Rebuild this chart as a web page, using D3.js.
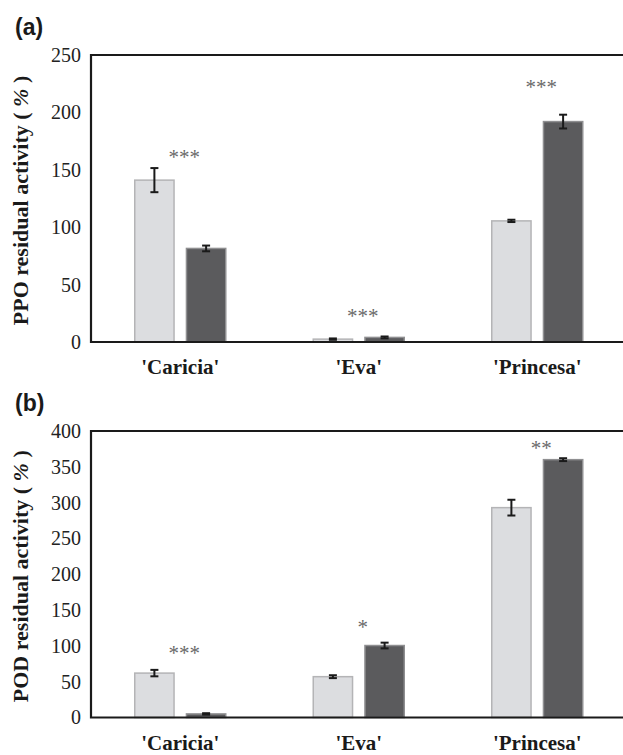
<!DOCTYPE html>
<html>
<head>
<meta charset="utf-8">
<script src="https://cdn.jsdelivr.net/npm/d3@7"></script>
<style>
  body { margin: 0; background: #fff; }
  svg { display: block; }
  .serif { font-family: "Liberation Serif", "Times New Roman", Times, serif; }
  .sans { font-family: "Liberation Sans", Arial, Helvetica, sans-serif; }
</style>
</head>
<body>
<svg id="svg" width="623" height="755"></svg>
<script>
// cultivars on the x axis
let cultivars = ["'Caricia'", "'Eva'", "'Princesa'"];

// panel (a) PPO, light and dark series with their errors
let ppoLight = [141, 2.5, 105.5];
let ppoLightErr = [10.5, 0.6, 1];
let ppoDark = [81.5, 4, 192];
let ppoDarkErr = [2.5, 0.8, 6];
let ppoStars = ['***', '***', '***'];
let ppoStarY = [164, 25.5, 225];
let ppoTicks = [0, 50, 100, 150, 200, 250];

// panel (b) POD
let podLight = [62, 57, 293];
let podLightErr = [4.5, 2, 11];
let podDark = [5, 100.5, 360];
let podDarkErr = [1, 4, 2];
let podStars = ['***', '*', '**'];
let podStarY = [94, 131, 381];
let podTicks = [0, 50, 100, 150, 200, 250, 300, 350, 400];

let svg = d3.select('#svg');

let colors = { light: '#dcdde0', dark: '#5b5b5d' };
let borders = { light: '#b4b4b6', dark: '#8f8f91' };

drawPanel = (cfg) => {
    let left = 91, right = 626.5;

    let x0 = d3.scaleBand()
        .domain(cultivars)
        .range([left, right]);

    let x1 = d3.scaleBand()
        .domain(['light', 'dark'])
        .range([-45.5, 45.5])
        .paddingInner(0.24);

    let y = d3.scaleLinear()
        .domain([0, cfg.max])
        .range([cfg.bottom, cfg.top]);

    let g = svg.append('g');

    // tick labels, no tick marks
    let yAxis = g.append('g')
        .attr('transform', 'translate(' + (left - 10) + ',0)')
        .call(d3.axisLeft(y).tickValues(cfg.ticks).tickSize(0).tickPadding(0));
    yAxis.attr('font-family', null).attr('font-size', null);
    yAxis.select('.domain').remove();
    yAxis.selectAll('text')
        .attr('class', 'serif')
        .style('font-size', '20px')
        .attr('fill', '#222');

    // rows of bars
    let rows = cultivars.map((c, i) => ({
        cat: c,
        bars: [
            { key: 'light', v: cfg.light[i], e: cfg.lightErr[i] },
            { key: 'dark', v: cfg.dark[i], e: cfg.darkErr[i] }
        ],
        star: cfg.stars[i],
        starY: cfg.starY[i]
    }));

    let groups = g.selectAll('.grp')
        .data(rows)
        .enter()
        .append('g')
        .attr('class', 'grp')
        .attr('transform', (d) => 'translate(' + (x0(d.cat) + x0.bandwidth() / 2) + ',0)');

    groups.selectAll('rect')
        .data((d) => d.bars)
        .enter()
        .append('rect')
        .attr('x', (d) => x1(d.key))
        .attr('y', (d) => y(d.v))
        .attr('width', x1.bandwidth())
        .attr('height', (d) => y(0) - y(d.v))
        .attr('fill', (d) => colors[d.key])
        .attr('stroke', (d) => borders[d.key])
        .attr('stroke-width', 1.5);

    // error bars
    let err = groups.selectAll('.err')
        .data((d) => d.bars)
        .enter()
        .append('g')
        .attr('class', 'err')
        .attr('stroke', '#1a1a1a')
        .attr('stroke-width', 2);
    let cx = (d) => x1(d.key) + x1.bandwidth() / 2;
    err.append('line')
        .attr('x1', cx).attr('x2', cx)
        .attr('y1', (d) => y(d.v + d.e)).attr('y2', (d) => y(d.v - d.e));
    err.append('line')
        .attr('x1', (d) => cx(d) - 4).attr('x2', (d) => cx(d) + 4)
        .attr('y1', (d) => y(d.v + d.e)).attr('y2', (d) => y(d.v + d.e));
    err.append('line')
        .attr('x1', (d) => cx(d) - 4).attr('x2', (d) => cx(d) + 4)
        .attr('y1', (d) => y(d.v - d.e)).attr('y2', (d) => y(d.v - d.e));

    // significance stars
    groups.append('text')
        .attr('class', 'serif')
        .attr('x', 4)
        .attr('y', (d) => y(d.starY) + 10)
        .attr('text-anchor', 'middle')
        .style('font-size', '21px')
        .attr('fill', '#6a6a6a')
        .text((d) => d.star);

    // category labels
    groups.append('text')
        .attr('class', 'serif')
        .attr('x', 0)
        .attr('y', cfg.bottom + 32)
        .attr('text-anchor', 'middle')
        .style('font-weight', 'bold')
        .style('font-size', '21px')
        .attr('fill', '#1a1a1a')
        .text((d) => d.cat);

    // frame: left, bottom, top
    g.append('path')
        .attr('d', 'M' + right + ',' + cfg.top + 'H' + left + 'V' + cfg.bottom + 'H' + right)
        .attr('fill', 'none')
        .attr('stroke', '#1a1a1a')
        .attr('stroke-width', 2.2);

    // y axis title
    let title = g.append('text')
        .attr('class', 'serif')
        .attr('transform', 'translate(28,' + ((cfg.top + cfg.bottom) / 2 + 2) + ') rotate(-90)')
        .attr('text-anchor', 'middle')
        .style('font-weight', 'bold')
        .style('font-size', '22px')
        .attr('fill', '#1a1a1a');
    title.append('tspan').text(cfg.title + ' (');
    title.append('tspan').style('font-style', 'italic').text(' %');
    title.append('tspan').text(' )');

    // panel letter
    svg.append('text')
        .attr('class', 'sans')
        .attr('x', 15)
        .attr('y', cfg.top - 20)
        .style('font-weight', 'bold')
        .style('font-size', '23px')
        .attr('fill', '#1a1a1a')
        .text(cfg.letter);
};

drawPanel({
    letter: '(a)', title: 'PPO residual activity',
    top: 55, bottom: 342, max: 250, ticks: ppoTicks,
    light: ppoLight, lightErr: ppoLightErr,
    dark: ppoDark, darkErr: ppoDarkErr,
    stars: ppoStars, starY: ppoStarY
});

drawPanel({
    letter: '(b)', title: 'POD residual activity',
    top: 431, bottom: 717.5, max: 400, ticks: podTicks,
    light: podLight, lightErr: podLightErr,
    dark: podDark, darkErr: podDarkErr,
    stars: podStars, starY: podStarY
});
</script>
</body>
</html>
